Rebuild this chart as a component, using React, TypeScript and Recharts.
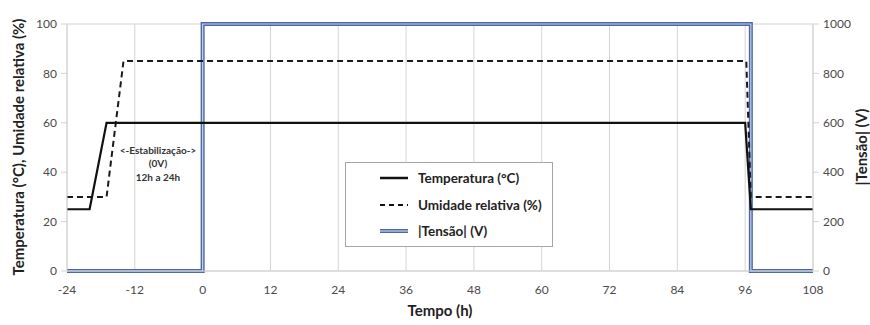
import React from "react";
import { ComposedChart, Line, XAxis, YAxis, CartesianGrid, ReferenceDot, Label } from "recharts";

const xTicks = [-24, -12, 0, 12, 24, 36, 48, 60, 72, 84, 96, 108];
const leftTicks = [0, 20, 40, 60, 80, 100];
const rightTicks = [0, 200, 400, 600, 800, 1000];

const tempHours = [-24, -20, -17, 96, 97, 108];
const tempValues = [25, 25, 60, 60, 25, 25];
const humHours = [-24, -17, -14, 96.2, 97, 108];
const humValues = [30, 30, 85, 85, 30, 30];
const tensHours = [-24, 0, 0, 97, 97, 108];
const tensValues = [0, 0, 1000, 1000, 0, 0];

const annotationLines = ["<-Estabilização->", "(0V)", "12h a 24h"];
const xTitle = "Tempo (h)";
const leftTitle = "Temperatura (°C), Umidade relativa (%)";
const rightTitle = "|Tensão| (V)";

const tempData = tempHours.map((h, i) => ({ h, v: tempValues[i] }));
const humData = humHours.map((h, i) => ({ h, v: humValues[i] }));
const tensData = tensHours.map((h, i) => ({ h, v: tensValues[i] }));

const FONT = "Lato, 'Open Sans', sans-serif";
const tickStyle = { fontSize: 12, fill: "#4a4a4a", fontFamily: FONT };
const titleStyle = { fontFamily: FONT, fontSize: 15, fontWeight: 700, fill: "#222" };

const LegendBox = () => (
  <div
    style={{
      position: "absolute",
      left: 345,
      top: 162,
      width: 208,
      height: 85,
      background: "#fff",
      border: "1px solid #a6a6a6",
      fontFamily: FONT,
      fontSize: 13.5,
      fontWeight: 700,
      color: "#222",
      boxSizing: "border-box",
      paddingTop: 2,
    }}
  >
    {[
      { label: "Temperatura (°C)", kind: "solid" },
      { label: "Umidade relativa (%)", kind: "dash" },
      { label: "|Tensão| (V)", kind: "double" },
    ].map((it) => (
      <div key={it.label} style={{ display: "flex", alignItems: "center", height: 26.5 }}>
        <svg width={30} height={10} style={{ marginLeft: 34, marginRight: 8 }}>
          {it.kind === "solid" && <line x1={0} y1={5} x2={28} y2={5} stroke="#111" strokeWidth={2.5} />}
          {it.kind === "dash" && <line x1={0} y1={5} x2={28} y2={5} stroke="#111" strokeWidth={2} strokeDasharray="5 4" />}
          {it.kind === "double" && (
            <g>
              <line x1={0} y1={5} x2={28} y2={5} stroke="#4a67a6" strokeWidth={4} />
              <line x1={0} y1={5} x2={28} y2={5} stroke="#c9d4ea" strokeWidth={1.2} />
            </g>
          )}
        </svg>
        <span>{it.label}</span>
      </div>
    ))}
  </div>
);

const Annotation = (props: any) => {
  const { cx, cy } = props;
  return (
    <g fontFamily={FONT} fontSize={10} fontWeight={700} fill="#333" textAnchor="middle">
      {annotationLines.map((t, i) => (
        <text key={t} x={cx} y={cy + i * 13.5}>
          {t}
        </text>
      ))}
    </g>
  );
};

const vTitle = (text: string, x: number) => () => (
  <text
    transform={`translate(${x},147) rotate(-90)`}
    textAnchor="middle"
    dominantBaseline="central"
    style={titleStyle as any}
  >
    {text}
  </text>
);

export default function App() {
  return (
    <div style={{ position: "absolute", left: 0, top: 0, width: 870, height: 325, background: "#fff" }}>
      <ComposedChart width={870} height={325} margin={{ top: 24, right: 0, bottom: 24, left: 0 }}>
        <CartesianGrid stroke="#d4d4d4" strokeWidth={1} />
        <XAxis
          dataKey="h"
          type="number"
          domain={[-24, 108]}
          ticks={xTicks}
          allowDuplicatedCategory={false}
          tick={tickStyle}
          tickLine={false}
          axisLine={{ stroke: "#d4d4d4" }}
          tickMargin={8}
          height={30}
        >
          <Label
            content={() => (
              <text x={440} y={316} textAnchor="middle" style={titleStyle as any}>
                {xTitle}
              </text>
            )}
          />
        </XAxis>
        <YAxis
          yAxisId="left"
          type="number"
          domain={[0, 100]}
          ticks={leftTicks}
          width={67}
          tick={tickStyle}
          tickLine={{ stroke: "#d4d4d4" }}
          tickSize={6}
          axisLine={{ stroke: "#d4d4d4" }}
          tickMargin={4}
        >
          <Label content={vTitle(leftTitle, 18)} />
        </YAxis>
        <YAxis
          yAxisId="right"
          orientation="right"
          type="number"
          domain={[0, 1000]}
          ticks={rightTicks}
          width={57}
          tick={tickStyle}
          tickLine={{ stroke: "#d4d4d4" }}
          tickSize={6}
          axisLine={{ stroke: "#d4d4d4" }}
          tickMargin={4}
        >
          <Label content={vTitle(rightTitle, 861)} />
        </YAxis>
        <Line
          yAxisId="right"
          data={tensData}
          dataKey="v"
          type="linear"
          stroke="#4a67a6"
          strokeWidth={4}
          dot={false}
          isAnimationActive={false}
        />
        <Line
          yAxisId="right"
          data={tensData}
          dataKey="v"
          type="linear"
          stroke="#c9d4ea"
          strokeWidth={1.2}
          dot={false}
          isAnimationActive={false}
        />
        <Line
          yAxisId="left"
          data={humData}
          dataKey="v"
          type="linear"
          stroke="#1a1a1a"
          strokeWidth={2}
          strokeDasharray="6 4"
          dot={false}
          isAnimationActive={false}
        />
        <Line
          yAxisId="left"
          data={tempData}
          dataKey="v"
          type="linear"
          stroke="#111"
          strokeWidth={2.2}
          dot={false}
          isAnimationActive={false}
        />
        <ReferenceDot yAxisId="left" x={-7.9} y={47.5} r={0} shape={Annotation} />
      </ComposedChart>
      <LegendBox />
    </div>
  );
}
